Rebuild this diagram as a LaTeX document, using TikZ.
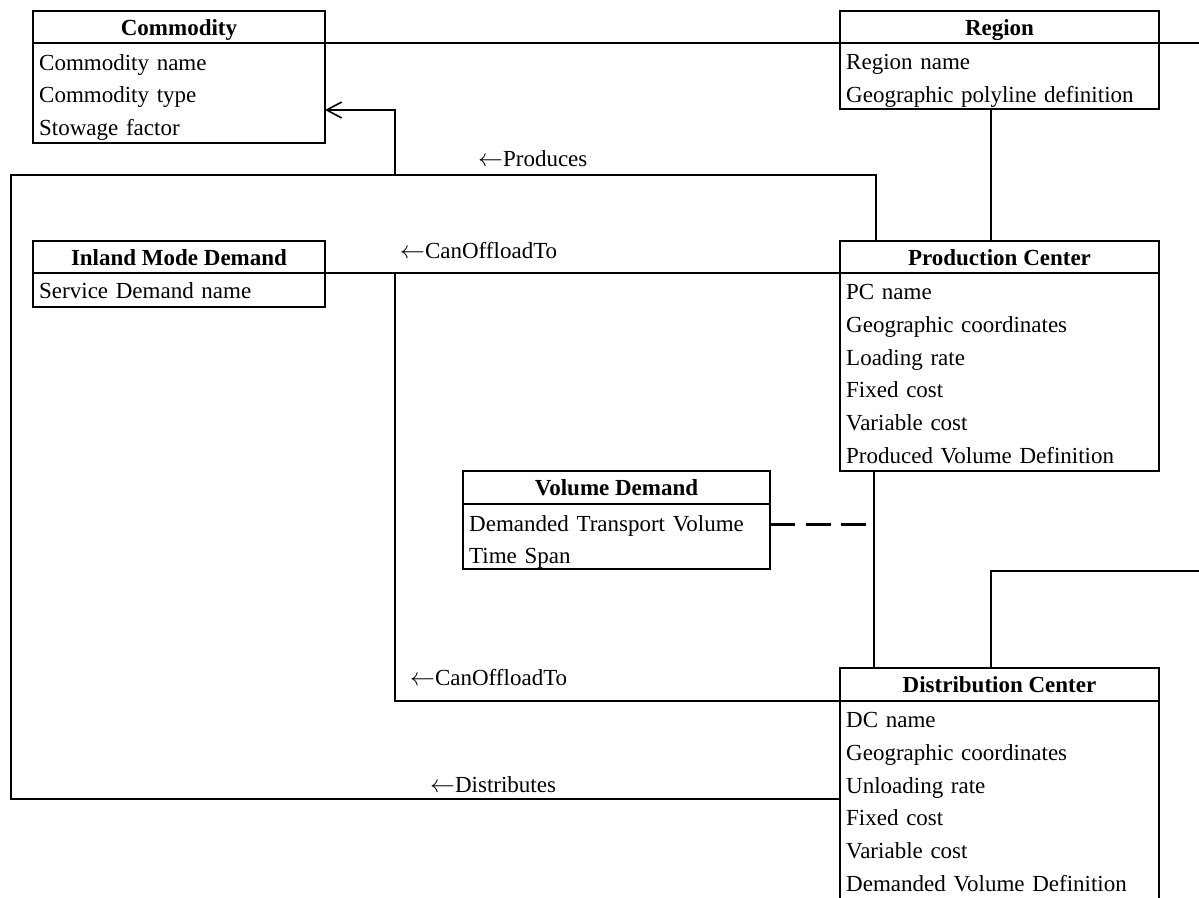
\documentclass[tikz,border=0pt]{standalone}
\usepackage{fontspec}
\setmainfont{Liberation Serif}
\usetikzlibrary{arrows.meta}
\newcommand{\rolearrow}{\ensuremath{\leftarrow}}
\begin{document}
\begin{tikzpicture}[x=1pt,y=-1pt,
  every node/.style={font=\fontsize{23}{32.8}\selectfont},
  head/.style={draw, line width=2.2pt, anchor=north west, inner sep=0pt, outer sep=0pt,
    minimum height=32pt, text height=18pt, text depth=2pt,
    font=\fontsize{23}{32.8}\selectfont\bfseries},
  frame/.style={draw, line width=2.2pt, anchor=north west, inner sep=0pt, outer sep=0pt},
  rows/.style={anchor=base west, inner sep=0pt, align=left, text width=300pt},
  conn/.style={line width=2pt},
  thinconn/.style={line width=1.3pt},
  lbl/.style={anchor=base west, inner sep=0pt},
  barb/.style={-{Straight Barb[length=15pt, width=16pt, line width=1.6pt]}}
]
\clip (0,0) rectangle (1199,897);
\fill[white] (0,0) rectangle (1199,897);

% ---- classes ----
\node[head, minimum width=292pt] (comT) at (33,11) {Commodity};
\node[frame, minimum width=292pt, minimum height=100pt] (comB) at (comT.south west) {};
\node[rows] (comL) at ([xshift=6pt, yshift=-27pt]comB.north west)
  {Commodity name\\Commodity type\\Stowage factor};

\node[head, minimum width=319pt] (regT) at (840,11) {Region};
\node[frame, minimum width=319pt, minimum height=66pt] (regB) at (regT.south west) {};
\node[rows] (regL) at ([xshift=6pt, yshift=-26.5pt]regB.north west)
  {Region name\\Geographic polyline definition};

\node[head, minimum width=292pt] (imT) at (33,241) {Inland Mode Demand};
\node[frame, minimum width=292pt, minimum height=34pt] (imB) at (imT.south west) {};
\node[rows] (imL) at ([xshift=6pt, yshift=-25pt]imB.north west) {Service Demand name};

\node[head, minimum width=319pt] (pcT) at (840,241) {Production Center};
\node[frame, minimum width=319pt, minimum height=198pt] (pcB) at (pcT.south west) {};
\node[rows] (pcL) at ([xshift=6pt, yshift=-26.5pt]pcB.north west)
  {PC name\\Geographic coordinates\\Loading rate\\Fixed cost\\Variable cost\\Produced Volume Definition};

\node[head, minimum width=307pt, minimum height=33pt] (volT) at (463,471) {Volume Demand};
\node[frame, minimum width=307pt, minimum height=65pt] (volB) at (volT.south west) {};
\node[rows] (volL) at ([xshift=6pt, yshift=-27pt]volB.north west)
  {Demanded Transport Volume\\Time Span};

\node[head, minimum width=319pt, minimum height=33pt] (dcT) at (840,668) {Distribution Center};
\node[frame, minimum width=319pt, minimum height=200pt] (dcB) at (dcT.south west) {};
\node[rows] (dcL) at ([xshift=6pt, yshift=-26.5pt]dcB.north west)
  {DC name\\Geographic coordinates\\Unloading rate\\Fixed cost\\Variable cost\\Demanded Volume Definition};

% ---- junctions and free ends ----
\coordinate (eA) at (1199,43);
\coordinate (eB) at (1199,571);
\coordinate (jP) at (395,175);
\coordinate (kP) at (840,175);
\coordinate (kL) at (11,175);
\coordinate (jC) at (395,273);
\coordinate (kD) at (872,524);

% ---- associations ----
\draw[conn] (comT.south east) -- (regT.south west);
\draw[conn] (regT.south east) -- (eA);
\draw[conn] ([xshift=-8.5pt]regB.south) -- ([xshift=-8.5pt]pcT.north);

% Produces / Distributes -> Commodity
\draw[thinconn] ([xshift=36pt]pcT.north west) |- (kP);
\draw[conn] (kP) -- (jP);
\draw[conn, barb] (jP) |- ([yshift=-17pt]comB.east);
\draw[conn] ([yshift=2pt]dcB.west) -| (kL) -- (jP);

% CanOffloadTo -> Inland Mode Demand
\draw[conn] (pcT.south west) -- (imT.south east);
\draw[conn] (dcT.south west) -| (jC);

% Production Center -- Distribution Center, with Volume Demand attached
\draw[thinconn] ([xshift=34pt]pcB.south west) -- ([xshift=34pt]dcT.north west);
\draw[line width=3pt, dash pattern=on 25pt off 10.5pt] ([yshift=12.5pt]volB.east) -- (kD);

\draw[conn] ([xshift=-8.5pt]dcT.north) |- (eB);

% ---- role labels ----
\node[lbl] (lProd) at (478,166) {\rolearrow Produces};
\node[lbl] (lOffA) at (400,258) {\rolearrow CanOffloadTo};
\node[lbl] (lOffB) at (410,685) {\rolearrow CanOffloadTo};
\node[lbl] (lDist) at (430,792) {\rolearrow Distributes};
\end{tikzpicture}
\end{document}
